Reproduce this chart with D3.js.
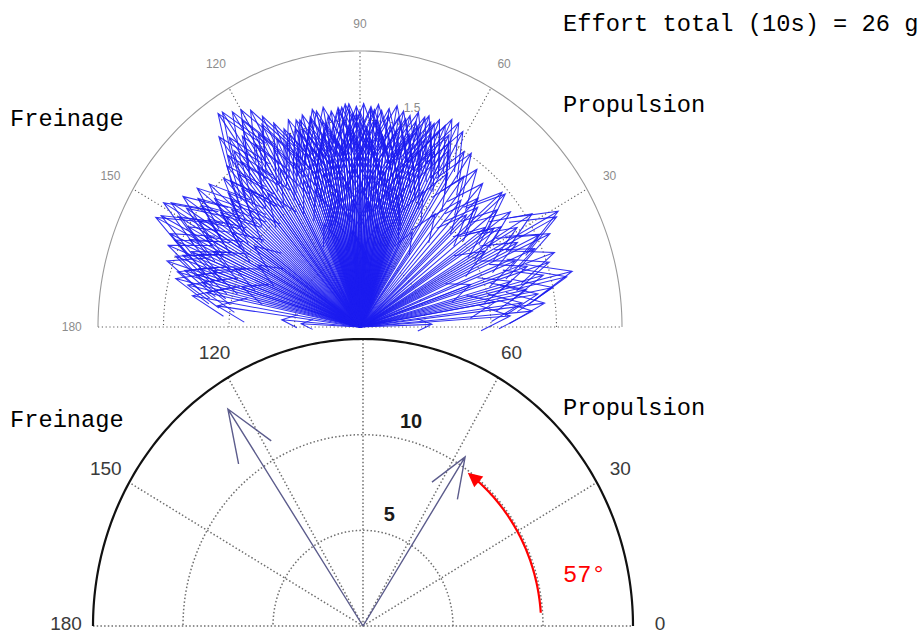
<!DOCTYPE html>
<html><head><meta charset="utf-8">
<script src="https://cdn.jsdelivr.net/npm/d3@7"></script>
<style>body{margin:0;background:#fff} svg{display:block}</style>
</head><body><svg id="c" width="922" height="633"></svg>
<script>
// ---------- data ----------
const angleTicks = [0, 30, 60, 90, 120, 150, 180];
const angleTickLabels = ["0", "30", "60", "90", "120", "150", "180"];
const topRings = [0.5, 1, 1.5];
const topRingLabels = ["0.5", "1", "1.5"];
const topMax = 2;
const bottomRings = [5, 10];
const bottomRingLabels = ["5", "10"];
const bottomMax = 15;

// individual force vectors over 10 s (angle in degrees, magnitude)
const effortAngles = [
  2,4,5,7,8,10,11,12,13,14,15,16,18,19,20,22,23,25,26,27,28,29,31,32,34,36,37,39,41,42,44,46,48,50,52,54,56,58,59,
  61,62,63,64,65,66,67,68,69,70,71,72,73,74,75,76,77,78,79,80,81,82,83,84,85,86,87,88,89,90,
  91,92,93,94,95,96,97,98,99,100,101,102,103,104,105,106,107,108,109,110,111,112,113,114,
  76,78,80,84,86,88,90,92,94,96,100,104,
  115,116,117,118,119,120,121,122,123,124,125,126,127,128,129,130,131,132,134,136,138,139,
  140,141,142,143,144,145,146,147,148,149,150,151,152,153,154,155,156,157,158,159,160,161,162,163,164,165,166,167,168,170,172,175,177,
  63,66,69,71,74,77,79,82,85,87,89,91,93,95,98,101,103,106,108,111,113,
  64,68,72,75,81,83,87,90,97,99,102,105,109,112,
  60,70,80,85,95,105,110,
  117,121,124,127,130,133,135,137,
  142,145,148,151,154,157,160,163,
  144,150,156,162,
  88,92,86,94,
  30,35,45,55,20,10,
  118,126,
  67,73,93,107,
  70,72,74,76,78,80,82,84,86,88,90,92,94,96,98,100,102,104,106,108,
  71,75,79,83,87,91,95,99,103,107,
  73,77,81,85,89,93,97,101
];
const effortMagnitudes = [
  0.55,1.15,1.32,1.42,1.25,1.38,1.5,1.3,1.62,1.67,1.45,1.2,1.52,1.35,1.58,1.28,1.45,1.6,1.52,1.35,1.7,1.73,1.4,1.55,1.3,1.42,1.2,1.35,1.47,1.46,1.25,1.3,1.4,1.2,1.45,1.35,1.52,1.5,1.3,
  1.62,1.45,1.66,1.55,1.66,1.6,1.4,1.62,1.5,1.58,1.35,1.6,1.52,1.62,1.45,1.58,1.3,1.6,1.55,1.63,1.48,1.6,1.4,1.58,1.62,1.5,1.6,1.45,1.62,1.56,
  1.6,1.4,1.58,1.62,1.5,1.6,1.35,1.58,1.55,1.62,1.45,1.6,1.3,1.57,1.5,1.6,1.57,1.4,1.52,1.6,1.35,1.55,1.45,1.62,
  1.2,1.25,1.1,1.2,1.3,1.1,1.25,1.15,1.35,1.2,1.25,1.15,
  1.5,1.7,1.45,1.78,1.6,1.82,1.55,1.84,1.65,1.88,1.89,1.7,1.5,1.75,1.6,1.45,1.55,1.35,1.5,1.4,1.55,1.3,
  1.45,1.6,1.35,1.55,1.5,1.65,1.4,1.58,1.7,1.75,1.6,1.5,1.72,1.75,1.45,1.6,1.55,1.35,1.58,1.45,1.5,1.3,1.55,1.4,1.45,1.25,1.45,1.35,1.2,1.3,1.1,0.6,0.45,
  1.5,1.4,1.58,1.62,1.3,1.55,1.45,1.35,1.5,1.58,1.3,1.55,1.45,1.6,1.4,1.52,1.62,1.45,1.58,1.5,1.3,
  1.1,1.2,0.95,1.05,1.15,1.0,0.9,1.05,1.1,0.95,1.0,1.2,1.05,1.15,
  0.8,0.85,0.75,0.9,0.7,0.85,0.8,
  1.65,1.75,1.4,1.6,1.3,1.45,1.2,1.35,
  1.3,1.2,1.45,1.35,1.25,1.4,1.2,1.3,
  1.0,0.9,1.05,0.95,
  0.6,0.65,0.55,0.7,
  1.1,1.25,1.15,1.0,0.9,1.05,
  1.3,1.2,
  1.55,1.48,1.62,1.5,
  1.45,1.3,1.55,1.4,1.5,1.35,1.55,1.45,1.58,1.38,1.5,1.55,1.42,1.58,1.3,1.5,1.4,1.55,1.35,1.48,
  1.25,1.15,1.3,1.2,1.35,1.25,1.3,1.2,1.35,1.25,
  1.0,1.05,0.95,1.1,1.0,0.9,1.05,0.95
];

// resultant vectors (braking / propulsion)
const resultAngles = [123.5, 57.3];
const resultMagnitudes = [13.6, 10.5];

const annotationAngleStart = 4;
const annotationAngleEnd = 54;
const annotationRadius = 9.9;
const annotationLabel = "57°";
const titleText = "Effort total (10s) = 26 g";
const brakingLabel = "Freinage";
const propulsionLabel = "Propulsion";

// ---------- drawing ----------
const svg = d3.select("#c");
const rad = d => d * Math.PI / 180;

const topX = d3.scaleLinear().domain([-topMax, topMax]).range([98, 622]);
const topY = d3.scaleLinear().domain([0, topMax]).range([327, 51]);
const botX = d3.scaleLinear().domain([-bottomMax, bottomMax]).range([93, 633]);
const botY = d3.scaleLinear().domain([0, bottomMax]).range([626, 339]);

function drawPolar(g, sx, sy, rmax, rings, ringLabels, st) {
  const P = (a, r) => [sx(r * Math.cos(rad(a))), sy(r * Math.sin(rad(a)))];
  const line = d3.line();
  const arcPts = r => d3.range(0, 180.5, 1).map(a => P(a, r));
  g.selectAll(".ring").data(rings).join("path")
    .attr("d", r => line(arcPts(r)))
    .attr("fill", "none").attr("stroke", st.grid).attr("stroke-width", st.gridW)
    .attr("stroke-dasharray", st.dash);
  g.selectAll(".spoke").data(angleTicks.filter(a => a > 0 && a < 180)).join("path")
    .attr("d", a => line([P(a, 0), P(a, rmax)]))
    .attr("stroke", st.grid).attr("stroke-width", st.gridW).attr("stroke-dasharray", st.dash);
  g.append("path").attr("d", line([P(180, rmax), P(0, rmax)]))
    .attr("stroke", st.grid).attr("stroke-width", st.gridW).attr("stroke-dasharray", st.dash);
  g.append("path").attr("d", line(arcPts(rmax)))
    .attr("fill", "none").attr("stroke", st.outer).attr("stroke-width", st.outerW);
  const shown = angleTicks.map((a, i) => ({a, t: angleTickLabels[i]}))
    .filter(d => !(st.hide || []).includes(d.a));
  g.selectAll(".al").data(shown).join("text")
    .attr("x", d => P(d.a, rmax * 1.1)[0])
    .attr("y", d => P(d.a, rmax * 1.1)[1] + (d.a === 0 || d.a === 180 ? (st.baseShift || 0) : 0))
    .attr("dy", "0.36em")
    .attr("text-anchor", d => d.a === 180 && st.endAnchor180 ? "end" : "middle")
    .attr("dx", d => d.a === 180 && st.endAnchor180 ? st.endAnchor180 : 0)
    .attr("font-family", "Liberation Sans, Arial, sans-serif")
    .attr("font-size", st.labelSize).attr("fill", st.labelColor)
    .text(d => d.t);
  g.selectAll(".rl").data(rings).join("text")
    .attr("x", r => P(76, r + 0.07 * rmax)[0])
    .attr("y", r => P(76, r + 0.07 * rmax)[1])
    .attr("dy", "0.36em").attr("text-anchor", "middle")
    .attr("font-family", "Liberation Sans, Arial, sans-serif")
    .attr("font-size", st.ringSize || st.labelSize).attr("fill", st.ringLabelColor)
    .attr("font-weight", st.ringWeight || "normal")
    .text((r, i) => ringLabels[i]);
  return P;
}

function compassPath(P, a, r) {
  // MATLAB compass arrow: 0 -> z -> z*(.8+.08i) -> z -> z*(.8-.08i)
  const da = Math.atan2(0.08, 0.8) * 180 / Math.PI;
  const rb = r * Math.hypot(0.8, 0.08);
  return d3.line()([P(a, 0), P(a, r), P(a + da, rb), P(a, r), P(a - da, rb)]);
}

// bottom chart (drawn first: the upper chart overlaps it)
const gBot = svg.append("g");
const PB = drawPolar(gBot, botX, botY, bottomMax, bottomRings, bottomRingLabels, {
  grid: "#6e6e6e", gridW: 1.5, dash: "1.5,2.2", outer: "#111", outerW: 2.2,
  labelSize: 19, labelColor: "#3a3a3a", ringLabelColor: "#1a1a1a", ringWeight: "bold", ringSize: 20,
  hide: [90], baseShift: -3
});
gBot.append("g").selectAll("path").data(resultAngles).join("path")
  .attr("d", (a, i) => compassPath(PB, a, resultMagnitudes[i]))
  .attr("fill", "none").attr("stroke", "#5c5c8c").attr("stroke-width", 1.4);

// top chart
const gTop = svg.append("g");
const PT = drawPolar(gTop, topX, topY, topMax, topRings, topRingLabels, {
  grid: "#5a5a5a", gridW: 1.1, dash: "1.2,2.6", outer: "#9a9a9a", outerW: 1.1,
  labelSize: 12, labelColor: "#8c8c8c", ringLabelColor: "#8c8c8c", endAnchor180: 10, hide: [0]
});
gTop.append("g").selectAll("path").data(effortAngles).join("path")
  .attr("d", (a, i) => compassPath(PT, a, effortMagnitudes[i]))
  .attr("fill", "none").attr("stroke", "#1c1cf0").attr("stroke-width", 1.05)
  .attr("stroke-opacity", 0.9).attr("stroke-linejoin", "miter");

// red angle annotation
const arcLinePts = d3.range(annotationAngleStart, annotationAngleEnd - 3.5, 1)
  .map(a => PB(a, annotationRadius));
svg.append("path").attr("d", d3.line()(arcLinePts))
  .attr("fill", "none").attr("stroke", "#ff0000").attr("stroke-width", 2.2);
const tip = PB(annotationAngleEnd, annotationRadius);
const back = PB(annotationAngleEnd - 4.5, annotationRadius);
const ux = tip[0] - back[0], uy = tip[1] - back[1];
const L = Math.hypot(ux, uy), nx = -uy / L, ny = ux / L;
svg.append("path")
  .attr("d", d3.line()([tip, [back[0] + nx * 7, back[1] + ny * 7], [back[0] - nx * 7, back[1] - ny * 7]]) + "Z")
  .attr("fill", "#ff0000");

// texts
const mono = "Liberation Mono, Courier New, monospace";
const addText = (x, y, t, color) => svg.append("text").attr("x", x).attr("y", y)
  .attr("font-family", mono).attr("font-size", 23.7).attr("fill", color || "#000").text(t);
addText(563, 31, titleText);
addText(563, 112, propulsionLabel);
addText(10, 126, brakingLabel);
addText(563, 415, propulsionLabel);
addText(10, 427, brakingLabel);
addText(563, 582, annotationLabel, "#ff0000");
</script>
</body></html>
